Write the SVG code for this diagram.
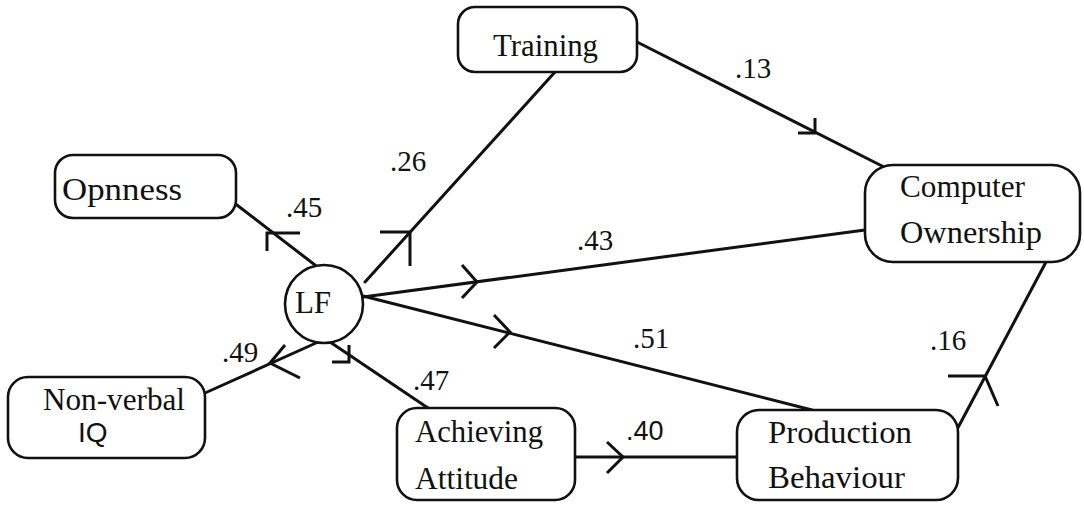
<svg xmlns="http://www.w3.org/2000/svg" width="1084" height="505" viewBox="0 0 1084 505">
  <style>
    .box { fill: #ffffff; stroke: #111111; stroke-width: 2.6; }
    .link { fill: none; stroke: #111111; stroke-width: 3; stroke-linecap: round; }
    .tick { fill: none; stroke: #111111; stroke-width: 3; stroke-linecap: butt; stroke-linejoin: miter; }
    .name { font-family: "Liberation Serif", "Times New Roman", serif; font-size: 31px; fill: #111111; }
    .sans { font-family: "Liberation Sans", Arial, sans-serif; font-size: 28px; fill: #111111; }
    .coef { font-family: "Liberation Serif", "Times New Roman", serif; font-size: 29px; fill: #111111; }
    .coefs { font-family: "Liberation Sans", Arial, sans-serif; font-size: 27px; fill: #111111; }
  </style>
  <rect width="1084" height="505" fill="#ffffff"/>

  <!-- paths between the variables, with their direction marks -->
  <g id="connectors">
    <line class="link" x1="233" y1="202" x2="315" y2="265"/>
    <line class="link" x1="555" y1="72" x2="365" y2="282"/>
    <line class="link" x1="637" y1="42" x2="884" y2="167"/>
    <line class="link" x1="363" y1="297" x2="865" y2="230"/>
    <line class="link" x1="363" y1="296" x2="812" y2="410"/>
    <line class="link" x1="330" y1="342" x2="428" y2="408"/>
    <line class="link" x1="316" y1="343" x2="205" y2="393"/>
    <line class="link" x1="575" y1="457" x2="737" y2="457"/>
    <line class="link" x1="953" y1="437" x2="1046" y2="262"/>

    <path class="tick" d="M300,233 H267 V251"/>
    <path class="tick" d="M380,232 H410 V266"/>
    <path class="tick" d="M462,265 L477,282 L462,298"/>
    <path class="tick" d="M494,315 L510,332 L494,348"/>
    <path class="tick" d="M607,442 L623,457 L607,473"/>
    <path class="tick" d="M798,133 H815 V118"/>
    <path class="tick" d="M332,362 H349 V345"/>
    <path class="tick" d="M285,345 L270,363 L300,378"/>
    <path class="tick" d="M948,376 H985 L998,406"/>

    <text class="coef" x="735" y="78">.13</text>
    <text class="coef" x="390" y="171">.26</text>
    <text class="coef" x="286" y="217">.45</text>
    <text class="coef" x="577" y="250">.43</text>
    <text class="coef" x="633" y="348">.51</text>
    <text class="coef" x="930" y="350">.16</text>
    <text class="coef" x="222" y="362">.49</text>
    <text class="coef" x="413" y="390">.47</text>
    <text class="coefs" x="626" y="440">.40</text>
  </g>

  <g id="training">
    <rect class="box" x="458" y="7" width="179" height="65" rx="17"/>
    <text class="name" x="493" y="56" textLength="105" lengthAdjust="spacingAndGlyphs">Training</text>
  </g>

  <g id="opnness">
    <rect class="box" x="55" y="155" width="181" height="63" rx="18"/>
    <text class="name" x="62" y="200" textLength="120" lengthAdjust="spacingAndGlyphs">Opnness</text>
  </g>

  <g id="lf">
    <circle class="box" cx="324" cy="304" r="39"/>
    <text class="name" x="313" y="313" text-anchor="middle">LF</text>
  </g>

  <g id="computer-ownership">
    <rect class="box" x="865" y="165" width="215" height="97" rx="28"/>
    <text class="name" x="900" y="197" textLength="125" lengthAdjust="spacingAndGlyphs">Computer</text>
    <text class="name" x="900" y="243" textLength="142" lengthAdjust="spacingAndGlyphs">Ownership</text>
  </g>

  <g id="non-verbal-iq">
    <rect class="box" x="8" y="377" width="197" height="81" rx="20"/>
    <text class="name" x="43" y="410" textLength="142" lengthAdjust="spacingAndGlyphs">Non-verbal</text>
    <text class="sans" x="78" y="442">IQ</text>
  </g>

  <g id="achieving-attitude">
    <rect class="box" x="397" y="408" width="178" height="92" rx="20"/>
    <text class="name" x="415" y="442" textLength="128" lengthAdjust="spacingAndGlyphs">Achieving</text>
    <text class="name" x="415" y="489" textLength="103" lengthAdjust="spacingAndGlyphs">Attitude</text>
  </g>

  <g id="production-behaviour">
    <rect class="box" x="737" y="410" width="221" height="90" rx="22"/>
    <text class="name" x="768" y="443" textLength="144" lengthAdjust="spacingAndGlyphs">Production</text>
    <text class="name" x="768" y="488" textLength="137" lengthAdjust="spacingAndGlyphs">Behaviour</text>
  </g>
</svg>
